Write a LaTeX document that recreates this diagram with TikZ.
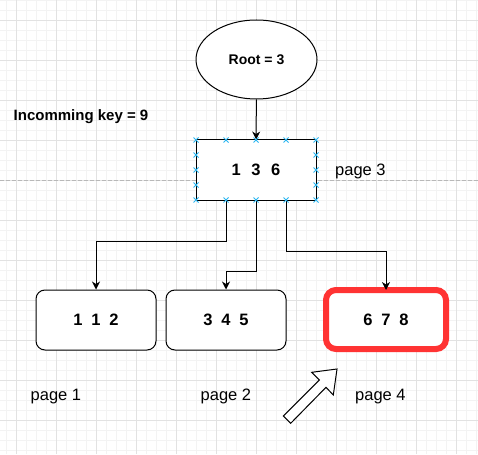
\documentclass[tikz,border=0pt]{standalone}
\usepackage{fontspec}
\setmainfont{Liberation Sans}
\usetikzlibrary{arrows.meta,calc,shapes.geometric}
\definecolor{gridminor}{HTML}{F3F3F3}
\definecolor{gridmajor}{HTML}{E2E2E2}
\definecolor{selblue}{HTML}{29B6F2}
\definecolor{hired}{HTML}{FF3333}
\definecolor{dashgray}{HTML}{B8B8B8}
\begin{document}
\begin{tikzpicture}[x=1pt,y=-1pt,
  lbl/.style={font=\fontsize{16.5}{18}\selectfont, inner sep=0pt, anchor=base west},
  keybox/.style={draw, line width=1pt, fill=white, minimum width=120pt, minimum height=60pt,
    font=\fontsize{16.5}{18}\selectfont\bfseries, inner sep=0pt},
  leaf/.style={keybox, rounded corners=9pt},
  hileaf/.style={leaf, draw=hired, line width=6pt, rounded corners=10pt, outer sep=0pt},
  rootshape/.style={ellipse, draw, line width=1pt, fill=white, minimum width=121pt,
    minimum height=79pt, inner sep=0pt, font=\fontsize{14}{16}\selectfont\bfseries},
  conn/.style={draw, line width=1pt, -{Stealth[length=8pt,width=8pt,inset=2.5pt]}},
  handle/.style={draw=selblue, line width=0.9pt},
  gminor/.style={draw=gridminor, line width=1pt},
  gmajor/.style={draw=gridmajor, line width=1pt},
  dashline/.style={draw=dashgray, line width=1pt, dash pattern=on 4pt off 2pt},
  blockarrow/.style={draw, line width=1pt, fill=white, line join=miter}
]
\useasboundingbox (0,0) rectangle (478,454);
\fill[white] (0,0) rectangle (478,454);
% grid
\foreach \x in {6.5,16.5,...,476.5} \draw[gminor] (\x,0) -- (\x,454);
\foreach \y in {0.5,10.5,...,450.5} \draw[gminor] (0,\y) -- (478,\y);
\foreach \x in {16.5,56.5,...,456.5} \draw[gmajor] (\x,0) -- (\x,454);
\foreach \y in {20.5,60.5,...,420.5} \draw[gmajor] (0,\y) -- (478,\y);
\draw[dashline] (0,180.5) -- (478,180.5);

% nodes
\node[rootshape] (root) at (256.5,59.5) {Root = 3};
\node[keybox] (n136) at (256,170) {1\hspace{10.5pt}3\hspace{10.5pt}6};
\node[leaf] (n112) at (96,320) {1\hspace{8.8pt}1\hspace{8.8pt}2};
\node[leaf] (n345) at (226,320) {3\hspace{8.8pt}4\hspace{8.8pt}5};
\node[hileaf, minimum width=120pt, minimum height=59pt] (n678) at (386,319.5) {6\hspace{8.8pt}7\hspace{8.8pt}8};

% labels
\node[lbl, font=\fontsize{15}{17}\selectfont\bfseries] (key) at (13.5,120.7) {Incomming key = 9};
\node[lbl] (p3) at (335,175.5) {page 3};
\node[lbl] (p1) at (30.5,400.5) {page 1};
\node[lbl] (p2) at (200.5,400.5) {page 2};
\node[lbl] (p4) at (355,400.5) {page 4};

% connectors
\draw[conn] (root) -- (n136);
\draw[conn] ([xshift=-30pt]n136.south) -- ++(0,40.5) -| (n112.north);
\draw[conn] (n136.south) -- ++(0,70.5) -| (n345.north);
\draw[conn] ([xshift=30pt]n136.south) -- ++(0,50.5) -| (n678.north);

% selection handles
\foreach \x in {196,226,256,286,316}
  \foreach \y in {140,200}
    \draw[handle] (\x,\y) +(-2.5,-2.5) -- +(2.5,2.5) +(-2.5,2.5) -- +(2.5,-2.5);
\foreach \x in {196,316}
  \foreach \y in {155,170,185}
    \draw[handle] (\x,\y) +(-2.5,-2.5) -- +(2.5,2.5) +(-2.5,2.5) -- +(2.5,-2.5);

% block arrow
\draw[blockarrow] (283.3,416) -- (319.3,380) -- (311.7,372.3) -- (337,369)
  -- (333.3,395) -- (326,387.3) -- (290.7,423.3) -- cycle;
\end{tikzpicture}
\end{document}
